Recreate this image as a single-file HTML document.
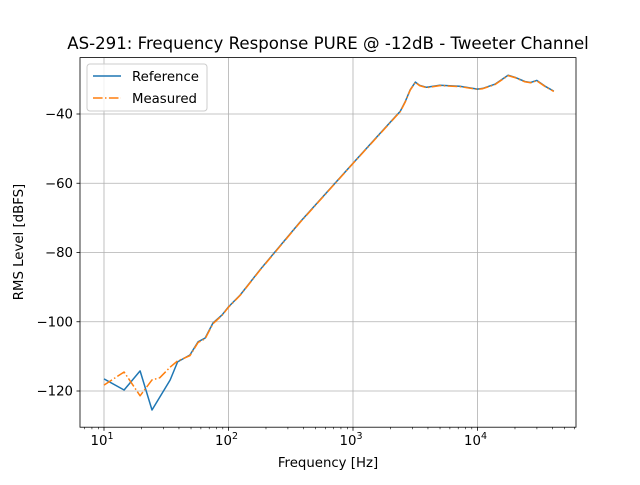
<!DOCTYPE html>
<html><head><meta charset="utf-8"><style>
body{margin:0;background:#fff;}
svg text{font-family:"DejaVu Sans","Liberation Sans",sans-serif;fill:#000;}
</style></head><body>
<svg id="chart" width="640" height="480" xmlns="http://www.w3.org/2000/svg">
<rect width="640" height="480" fill="#fff"/>
<g id="grid"></g>
<g id="lines"></g>
<rect x="80" y="57.6" width="496" height="369.6" fill="none" stroke="#000" stroke-width="0.8"/>
<g id="ticks"></g>
<text x="328" y="49" font-size="16.6" text-anchor="middle">AS-291: Frequency Response PURE @ -12dB - Tweeter Channel</text>
<text x="328" y="472" font-size="13.3" text-anchor="middle" dy="-5">Frequency [Hz]</text>
<text transform="translate(23,242) rotate(-90)" font-size="13.3" text-anchor="middle">RMS Level [dBFS]</text>
<g>
<rect x="87" y="64" width="120" height="47" rx="3" fill="#fff" fill-opacity="0.8" stroke="#ccc"/>
<line x1="93" y1="76" x2="121" y2="76" stroke="#1f77b4" stroke-width="1.5"/>
<text x="132" y="81" font-size="13.3">Reference</text>
<line x1="93" y1="98" x2="121" y2="98" stroke="#ff7f0e" stroke-width="1.5" stroke-dasharray="9.6,2.4,1.5,2.4"/>
<text x="132" y="103" font-size="13.3">Measured</text>
</g>
</svg>
<script>
const refFreq=[10,14.5,19.5,24.3,34,39,49,57,65,75,89,100,124,179,376,1000,2170,2400,2630,2880,3170,3430,3900,4980,7200,10000,11000,13800,17600,20000,24000,26700,29900,35000,41000];
const refDb=[-116.5,-119.7,-114.2,-125.5,-116.8,-111.6,-109.6,-105.8,-104.7,-100.4,-98,-95.7,-92.3,-85,-71.2,-54.2,-40.9,-39.2,-36.4,-33,-30.8,-31.7,-32.3,-31.7,-32,-32.8,-32.6,-31.4,-28.8,-29.4,-30.6,-30.9,-30.3,-32,-33.4];
const measFreq=[10,14.5,19.5,24.3,28,34,39,49,57,65,75,89,100,124,179,376,1000,2170,2400,2630,2880,3170,3430,3900,4980,7200,10000,11000,13800,17600,20000,24000,26700,29900,35000,41000];
const measDb=[-118.3,-114.5,-121.4,-116.8,-116.2,-113.1,-111.3,-109.8,-106,-104.9,-100.6,-98.1,-95.8,-92.4,-85.1,-71.3,-54.3,-41,-39.3,-36.5,-33.1,-30.9,-31.8,-32.4,-31.8,-32.1,-32.9,-32.7,-31.5,-28.9,-29.5,-30.7,-31,-30.4,-32.1,-33.5];
const yTicks=[-120,-100,-80,-60,-40];
const xDecades=[10,100,1000,10000];
const L=80,R=576,T=57.6,B=427.2;
const X=f=>104+124.5*Math.log10(f/10);
const Y=v=>114+(-40-v)*3.4625;
const NS="http://www.w3.org/2000/svg";
function mk(tag,attrs,parent){const e=document.createElementNS(NS,tag);for(const k in attrs)e.setAttribute(k,attrs[k]);document.getElementById(parent).appendChild(e);return e;}
yTicks.forEach(v=>{
 const g=mk('line',{x1:L,x2:R,y1:Y(v),y2:Y(v),stroke:'#b0b0b0','stroke-width':0.8},'grid');
 
 
 mk('line',{x1:L-3.5,x2:L,y1:Y(v),y2:Y(v),stroke:'#000','stroke-width':0.8},'ticks');
 const t=mk('text',{x:L-7,y:Y(v)+4.5,'font-size':13.3,'text-anchor':'end'},'ticks');
 t.textContent='\u2212'+Math.abs(v);
 
 
});
xDecades.forEach(f=>{
 const g=mk('line',{x1:X(f),x2:X(f),y1:T,y2:B,stroke:'#b0b0b0','stroke-width':0.8},'grid');
 
 
 mk('line',{x1:X(f),x2:X(f),y1:B,y2:B+3.5,stroke:'#000','stroke-width':0.8},'ticks');
 const e=Math.round(Math.log10(f));
 const t=mk('text',{x:X(f)-2,y:B+18,'font-size':13.3,'text-anchor':'middle'},'ticks');
 t.innerHTML='10<tspan dy="-6" font-size="9.5">'+e+'</tspan>';
 
 
});
for(let d=1;d<=10000;d*=10){for(let m=2;m<=9;m++){const f=d*m;const x=X(f);if(x<L||x>R)continue;mk('line',{x1:x,x2:x,y1:B,y2:B+2,stroke:'#000','stroke-width':0.6},'ticks');}}
function pts(fs,vs){return fs.map((f,i)=>X(f).toFixed(1)+','+Y(vs[i]).toFixed(1)).join(' ');}
const l1=mk('polyline',{points:pts(refFreq,refDb),fill:'none',stroke:'#1f77b4','stroke-width':1.5,'stroke-linejoin':'round'},'lines');


const l2=mk('polyline',{points:pts(measFreq,measDb),fill:'none',stroke:'#ff7f0e','stroke-width':1.5,'stroke-dasharray':'9.6,2.4,1.5,2.4','stroke-linejoin':'round'},'lines');


</script>
</body></html>
